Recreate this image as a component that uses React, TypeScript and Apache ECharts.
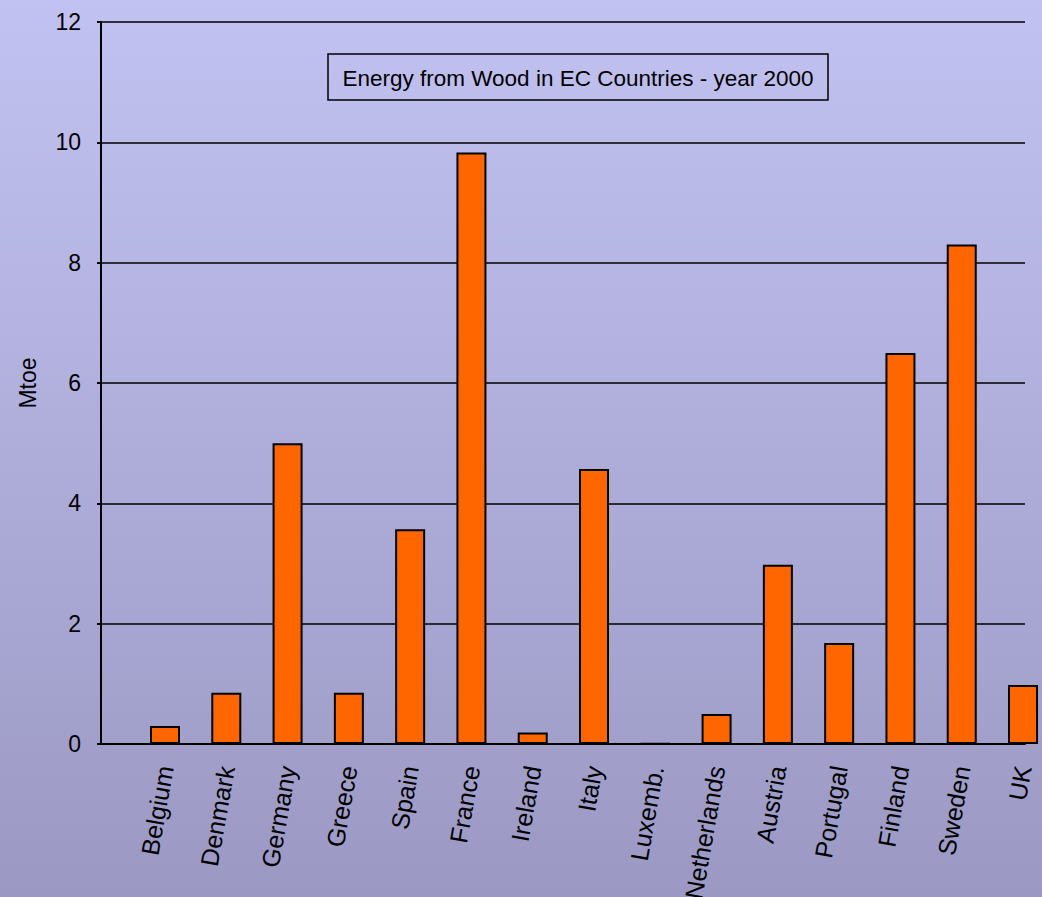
import React, { useEffect, useRef } from "react";
import * as echarts from "echarts";

const countries = [
  "Belgium", "Denmark", "Germany", "Greece", "Spain", "France", "Ireland", "Italy",
  "Luxemb.", "Netherlands", "Austria", "Portugal", "Finland", "Sweden", "UK",
];
const mtoe = [0.3, 0.85, 5.0, 0.85, 3.57, 9.83, 0.19, 4.57, 0.01, 0.5, 2.98, 1.68, 6.5, 8.3, 0.98];
const yTicks = { min: 0, max: 12, interval: 2 };
const titleText = "Energy from Wood in EC Countries - year 2000";
const yName = "Mtoe";

const FONT = "'Liberation Sans', Arial, sans-serif";

export default function App() {
  const ref = useRef<HTMLDivElement>(null);
  useEffect(() => {
    document.body.style.margin = "0";
    document.body.style.overflow = "hidden";
    const chart = echarts.init(ref.current!, null, { renderer: "svg" });
    const W = 1070;
    const bandStart = 134.36;
    const bandWidth = 919.3;
    chart.setOption({
      animation: false,
      backgroundColor: new echarts.graphic.LinearGradient(0, 0, 0, 1, [
        { offset: 0, color: "#c2c2f2" },
        { offset: 1, color: "#9b99c3" },
      ]),
      textStyle: { fontFamily: FONT },
      grid: [
        { left: 101, right: W - 1025, top: 22, bottom: 153, containLabel: false, outerBoundsMode: "none" },
        { left: bandStart, right: W - bandStart - bandWidth, top: 22, bottom: 153, containLabel: false, outerBoundsMode: "none" },
      ],
      xAxis: [
        {
          gridIndex: 0,
          type: "value",
          min: 0,
          max: 1,
          axisLine: { show: true, onZero: false, lineStyle: { color: "#000", width: 2 } },
          axisTick: { show: false },
          axisLabel: { show: false },
          splitLine: { show: false },
        },
        {
          gridIndex: 1,
          type: "category",
          data: countries,
          axisLine: { show: false },
          axisTick: { show: false },
          axisLabel: {
            rotate: 80,
            interval: 0,
            margin: 22,
            fontSize: 25,
            color: "#000",
            fontFamily: FONT,
          },
        },
      ],
      yAxis: [
        {
          gridIndex: 0,
          type: "value",
          min: yTicks.min,
          max: yTicks.max,
          interval: yTicks.interval,
          name: yName,
          nameLocation: "middle",
          nameGap: 62,
          nameTextStyle: { fontSize: 23, color: "#000", fontFamily: FONT },
          axisLine: { show: true, lineStyle: { color: "#000", width: 2 } },
          axisTick: { show: true, length: 4, lineStyle: { color: "#000", width: 2 } },
          axisLabel: { margin: 20, fontSize: 23, color: "#000", fontFamily: FONT },
          splitLine: { show: true, lineStyle: { color: "#000", width: 1.5 } },
        },
        {
          gridIndex: 1,
          type: "value",
          min: yTicks.min,
          max: yTicks.max,
          interval: yTicks.interval,
          show: false,
          splitLine: { show: false },
        },
      ],
      series: [
        {
          type: "bar",
          xAxisIndex: 1,
          yAxisIndex: 1,
          data: mtoe,
          barWidth: 30,
          itemStyle: { color: "#ff6600", borderColor: "#000", borderWidth: 2 },
        },
      ],
      graphic: [
        {
          type: "rect",
          shape: { x: 328, y: 54, width: 500, height: 46 },
          style: { fill: "none", stroke: "#000", lineWidth: 1.5 },
          z: 10,
        },
        {
          type: "text",
          x: 578,
          y: 78,
          style: {
            text: titleText,
            fontSize: 22.5,
            fontFamily: FONT,
            fill: "#000",
            align: "center",
            verticalAlign: "middle",
          },
          z: 10,
        },
      ],
    });
    return () => chart.dispose();
  }, []);
  return (
    <div
      ref={ref}
      style={{ position: "fixed", left: 0, top: 0, width: 1070, height: 897 }}
    />
  );
}
